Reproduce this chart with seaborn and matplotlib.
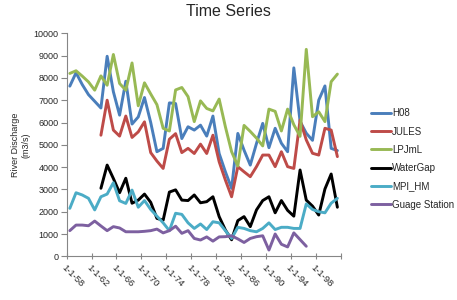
import numpy as np
import pandas as pd
import matplotlib
matplotlib.use("Agg")
import matplotlib.pyplot as plt
import seaborn as sns

nan = np.nan
years = list(range(1958, 2002))
tick_labels = ["1-1-58", "1-1-62", "1-1-66", "1-1-70", "1-1-74", "1-1-78",
               "1-1-82", "1-1-86", "1-1-90", "1-1-94", "1-1-98"]

h08 = [7630, 8230, 7700, 7250, 6950, 6650, 8970, 7380, 6330, 7850, 5930, 6250,
       7120, 6000, 4690, 4840, 6880, 6850, 5280, 5810, 5660, 5880, 5390, 6290,
       4610, 3790, 3050, 5510, 4760, 4090, 5060, 5960, 4870, 5740, 5070, 4690,
       8450, 6050, 5520, 5200, 7000, 7640, 4840, 4740]
jules = [nan, nan, nan, nan, nan, 5430, 7000, 5660, 5390, 6290, 5330, 5580,
         6030, 4650, 4270, 3940, 5250, 5500, 4650, 4840, 4610, 5030, 4610, 5430,
         4240, 3420, 2670, 4020, 3790, 3570, 4020, 4540, 4540, 4020, 4690, 4020,
         3940, 6110, 5220, 4620, 4540, 5740, 5660, 4470]
lpjml = [8200, 8320, 8080, 7820, 7450, 8090, 7670, 9050, 7750, 7450, 8670, 6750,
         7780, 7280, 6800, 5740, 5620, 7460, 7570, 7160, 6040, 6970, 6630, 6520,
         7050, 5810, 4690, 4050, 5870, 5600, 5300, 4950, 6600, 6500, 5620, 6600,
         5900, 5380, 9280, 6260, 6480, 6040, 7830, 8170]
watergap = [nan, nan, nan, nan, nan, 3050, 4090, 3490, 2850, 3500, 2380, 2520,
            2790, 2420, 1700, 1620, 2880, 2980, 2520, 2500, 2750, 2400, 2450, 2670,
            1780, 1180, 740, 1600, 1780, 1330, 2080, 2500, 2670, 1950, 2500, 2060,
            1800, 3870, 2520, 2250, 1850, 3020, 3690, 2200]
mpi_hm = [2150, 2850, 2750, 2600, 2080, 2670, 2790, 3300, 2490, 2370, 2970, 2200,
          2500, 2100, 1800, 1500, 1150, 1930, 1880, 1500, 1250, 1450, 1200, 1550,
          1500, 1150, 800, 1300, 1250, 1150, 1100, 1250, 1500, 1200, 1300, 1300,
          1250, 1250, 2350, 2100, 2000, 1950, 2380, 2600]
gauge = [1150, 1400, 1400, 1370, 1580, 1360, 1150, 1330, 1270, 1100, 1100, 1100,
         1120, 1150, 1220, 1050, 1150, 1350, 1030, 1150, 800, 730, 870, 680,
         870, 880, 920, 780, 620, 800, 880, 920, 280, 1000, 540, 420,
         1050, 750, 450, nan, nan, nan, nan, nan]

series = [("H08", h08, "#4A7EBB"),
          ("JULES", jules, "#BE4B48"),
          ("LPJmL", lpjml, "#98B954"),
          ("WaterGap", watergap, "#000000"),
          ("MPI_HM", mpi_hm, "#4BACC6"),
          ("Guage Station", gauge, "#7D60A0")]

sns.set_theme(style="white")
plt.rcParams['font.family'] = ['Liberation Sans', 'DejaVu Sans']

fig = plt.figure(figsize=(4.57, 3.0), dpi=100)
ax = fig.add_axes([66.7/457, 1-256.3/300, (340.5-66.7)/457, (256.3-33.3)/300])

idx = np.arange(len(years))
for name, vals, col in series:
    df = pd.DataFrame({"i": idx, "v": vals}).dropna()
    sns.lineplot(data=df, x="i", y="v", ax=ax, color=col, lw=2.1, label=name,
                 estimator=None, sort=False)

ax.set_xlim(-0.5, len(years) - 0.5)
ax.set_ylim(0, 10000)
ax.set_yticks(range(0, 10001, 1000))
ax.set_yticklabels([str(v) for v in range(0, 10001, 1000)], fontsize=6.5)
ticks = np.arange(-0.5, len(years), 4)
ax.set_xticks(ticks)
ax.set_xticklabels(tick_labels + [""] * (len(ticks) - len(tick_labels)),
                   rotation=-45, ha="left", va="top", rotation_mode="anchor",
                   fontsize=6.8)
ax.tick_params(axis="x", length=4, width=0.8, color="#868686", pad=3, direction="inout")
ax.tick_params(axis="y", length=4, width=0.8, color="#868686", pad=2, direction="out", left=True)
ax.tick_params(axis="x", bottom=True)
for s in ["top", "right"]:
    ax.spines[s].set_visible(False)
for s in ["left", "bottom"]:
    ax.spines[s].set_color("#868686")
    ax.spines[s].set_linewidth(0.8)
ax.set_xlabel("")
ax.set_ylabel("River Discharge\n(m3/s)", fontsize=6.5, labelpad=2)
ax.grid(False)

fig.text(0.5, 1 - 12/300, "Time Series", ha="center", va="center", fontsize=11.5)

leg = ax.legend(loc="center left", bbox_to_anchor=(367/457, 1 - 159/300),
                bbox_transform=fig.transFigure, frameon=False, fontsize=7,
                handlelength=2.1, handletextpad=0.1, labelspacing=0.85,
                borderaxespad=0)

fig.savefig("out.png", dpi=100)
